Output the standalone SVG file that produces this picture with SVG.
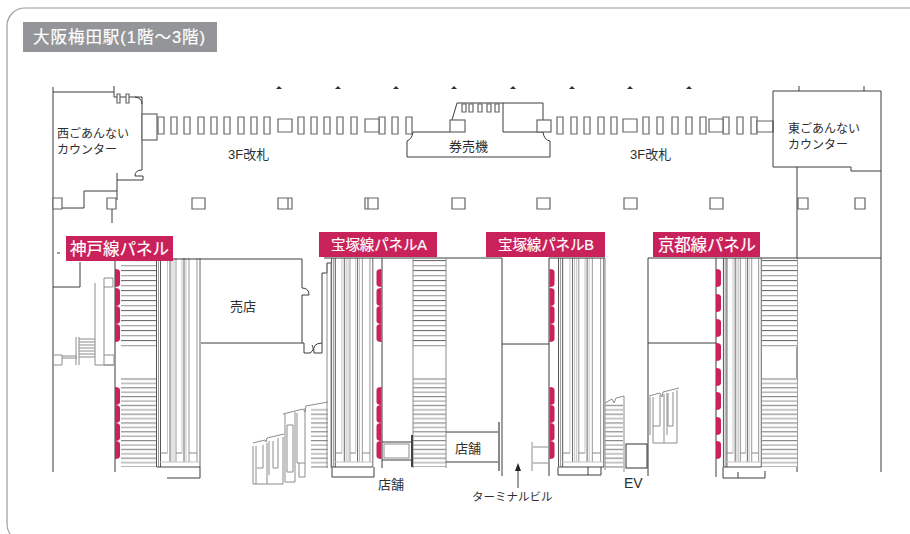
<svg xmlns="http://www.w3.org/2000/svg" width="910" height="534" viewBox="0 0 910 534">
<style>
.d{fill:none;stroke:#3c3c3c;stroke-width:1}
.b{fill:#fff;stroke:#666;stroke-width:1.2}
.g{fill:none;stroke:#8c8c8c;stroke-width:1}
.t{font-family:"Liberation Sans","Noto Sans CJK JP",sans-serif;fill:#2e2e2e;font-size:13px}
.s{font-size:12px}
.w{font-family:"Liberation Sans","Noto Sans CJK JP",sans-serif;fill:#fff;stroke:#fff;stroke-width:.2;font-size:16.5px}
.r{fill:#c9215a}
.ns{vector-effect:non-scaling-stroke;fill:none;stroke-width:1}
</style>
<defs>
<pattern id="st" width="10" height="10" patternUnits="userSpaceOnUse"><rect width="10" height="10" fill="#fff"/><rect y="0" width="10" height="1.1" fill="#6e6e6e"/><rect y="5" width="10" height="1.3" fill="#aaa"/></pattern>
<pattern id="st2" width="10" height="8.8" patternUnits="userSpaceOnUse"><rect width="10" height="8.8" fill="#fff"/><rect y="0" width="10" height="1.2" fill="#8a8a8a"/><rect y="4.4" width="10" height="1.3" fill="#aaa"/></pattern>
<g id="esc">
<path class="ns" stroke="#555" d="M.5 0V209M4.5 0V209"/>
<path class="ns" stroke="#999" d="M2.5 0V209M20 0V204M33 0V204M41 0V204"/>
<path class="ns" stroke="#666" d="M14 0V204M28 0V204M44 0V209"/>
<path class="ns" stroke="#c4c4c4" d="M11.5 0V195M16 0V204M18 0V204M26 0V195M30 0V204M4 204H43"/>
<path class="ns" stroke="#888" d="M4.5 195H11.5M20 195H26M33 195H41"/>
<path class="ns" stroke="#444" d="M1 209H44"/>
</g>
<path id="tick" d="M-3 3H3L0 0Z" fill="#333"/>
<path id="seg" d="M0 0Q5 0 5 3V15Q5 18 0 18Z"/>
<path id="segl" d="M0 0Q-5 0 -5 3V15Q-5 18 0 18Z"/>
</defs>
<rect x="7" y="8" width="930" height="534" rx="18" fill="#fff" stroke="#9c9c9c" stroke-width="1.2"/>

<g id="title"><rect x="23" y="22" width="194" height="30" fill="#939598"/><text class="w" x="33" y="43" style="font-size:16.5px" textLength="172">大阪梅田駅(1階〜3階)</text></g>

<g id="ticks">
<use href="#tick" x="279" y="86"/><use href="#tick" x="338" y="86"/><use href="#tick" x="396" y="86"/><use href="#tick" x="454" y="86"/><use href="#tick" x="513" y="86"/><use href="#tick" x="572" y="86"/><use href="#tick" x="630" y="86"/><use href="#tick" x="689" y="86"/>
</g>

<g id="west-counter">
<path class="d" d="M53 87V472M53 92H114M114 86V97H117M117 97H142V170Q135 170 135 176H143V180H117M117 173V200M84 191H117M84 191V208H53M112 209V223M135 97Q142 98 142 104M57 253H60"/>
<path class="b" d="M117 94h3v9h-3zM126 94h3v9h-3z"/>
<rect class="b" x="142" y="114" width="15" height="26"/>
<text class="t s" x="57" y="138">西ごあんない</text><text class="t s" x="57" y="154">カウンター</text>
</g>

<g id="gates">
<path class="b" d="M158 117h6v17h-6zM171 117h6v17h-6zM184 117h6v17h-6zM198 117h6v17h-6zM211 117h6v17h-6zM224 117h6v17h-6zM238 117h6v17h-6zM251 117h6v17h-6zM264 117h6v17h-6zM298 117h6v17h-6zM311 117h6v17h-6zM324 117h6v17h-6zM337 117h6v17h-6zM351 117h6v17h-6zM379 117h6v17h-6zM392 117h6v17h-6zM406 117h6v17h-6zM557 117h6v17h-6zM571 117h6v17h-6zM584 117h6v17h-6zM598 117h6v17h-6zM611 117h6v17h-6zM643 117h6v17h-6zM657 117h6v17h-6zM672 117h6v17h-6zM686 117h6v17h-6zM700 117h6v17h-6zM723 117h6v17h-6zM737 117h6v17h-6zM751 117h6v17h-6z"/>
<path class="b" d="M278 119h14v13h-14zM365 119h14v13h-14zM623 119h14v13h-14zM709 119h14v13h-14zM757 121h16v11h-16z"/>
<text class="t" x="228" y="159">3F改札</text><text class="t" x="630" y="159">3F改札</text>
</g>

<g id="ticket">
<path class="d" d="M413 132H450M413 132Q412 139 407 141V157H550V141Q544 140 543 132H503V103M457 103H543V120M457 103L452 120"/>
<rect class="b" x="450" y="120" width="15" height="12"/><rect class="b" x="537" y="120" width="14" height="12"/>
<path class="b" d="M462 104h4v8h-4zM469 104h4v8h-4zM478 104h4v8h-4zM487 104h4v8h-4zM495 104h4v8h-4z"/>
<text class="t" x="449" y="151">券売機</text>
</g>

<g id="pillars">
<path class="b" d="M53 198h9v11h-9zM107 198h9v11h-9zM192 198h13v11h-13zM278 198h14v11h-14zM365 198h13v11h-13zM452 198h13v11h-13zM537 198h13v11h-13zM624 198h13v11h-13zM710 198h13v11h-13zM798 198h10v11h-10zM855 198h10v11h-10z"/>
<path class="b" d="M288 198v11M368 198v11"/>
</g>

<g id="east-counter">
<path class="d" d="M773 91H881V472M773 91V167H851V171H881M797 167V472M799 86V91M864 86V91"/>
<text class="t s" x="788" y="133">東ごあんない</text><text class="t s" x="788" y="149">カウンター</text>
</g>

<g id="stairs">
<rect x="121" y="259" width="35" height="88" fill="url(#st)"/><rect x="121" y="378" width="35" height="89" fill="url(#st2)"/>
<rect x="413" y="258" width="33" height="89" fill="url(#st)"/><rect x="413" y="378" width="33" height="89" fill="url(#st2)"/>
<rect x="762" y="258" width="35" height="89" fill="url(#st)"/><rect x="762" y="378" width="35" height="89" fill="url(#st2)"/>
<rect x="311" y="408" width="17" height="60" fill="url(#st2)"/>
<rect x="605" y="403" width="18" height="65" fill="url(#st2)"/>
</g>

<g id="escalators">
<use href="#esc" transform="translate(156 258)"/>
<use href="#esc" transform="translate(331 258) scale(.95 1)"/>
<use href="#esc" transform="translate(558 258) scale(1.04 1)"/>
<use href="#esc" transform="translate(723 258) scale(.87 1)"/>
<path class="d" d="M332 467V477H374V467M558 467V475H601V467M588 467V475M723 467V478H765V471M738 472V478"/>
<path class="g" d="M605 258V470"/>
<path class="d" d="M167 478H200V467"/>
</g>

<g id="walls">
<path class="d" d="M115 251V472M115 259H302M80 262V287H53"/>
<path class="d" d="M302 259V288Q309 288 309 295H302V343H201M302 343H304V353H310Q315 350 312 345M314 353H322V273H327V263H331M322 343Q312 343 314 353"/>
<path class="d" d="M324 258H502M382 258V468M502 258V476M549 258V476M502 344H549M549 258H605M648 258H881M648 258V476M648 343H716M716 258V477"/>
<path class="g" d="M327 263V468M331 263V468M413 258V468M446 258V468"/>
<path class="d" d="M446 432H499M446 462H499M382 442H413M382 460H413"/>
<rect x="498" y="422" width="2" height="49" fill="#888"/>
<rect x="411" y="435" width="2" height="32" fill="#444"/>
<rect class="g" x="384" y="444" width="25" height="14"/>
<path class="g" d="M532 442V471M533 447H548M533 463H548"/>
<path class="d" d="M518 488V468"/><path d="M515 471H521L518 463Z" fill="#222"/>
<rect x="626" y="444" width="21" height="24" fill="#fff" stroke="#333"/>
<path class="g" d="M605 403L612 399L614 403L616 398L624 396V472"/>
</g>

<g id="small-stairs">
<path class="g" d="M95 283V365M104 278V365M114 365H95M104 278H113V287H104M104 355H114V365H104M53 355H62V365H53M62 356H77M62 358H77M76 337V365M79 337V365M79 339H95M79 342H95M79 345H95M79 348H95M79 351H95M79 354H95M79 357H95"/>
<path class="g" d="M253 443L265 440L266 442L267 438L284 434M253 446V484H283V437M256 446V484M263 445V468H257M267 443V484M269 441V475M273 441V468H278V438"/>
<path class="g" d="M283 414L303 409L305 412L306 406L328 402M285 414V482H295V412M287 425H293V472H287ZM297 413V463H305V408M299 463V477H305V463"/>
<path class="g" d="M649 396L660 393L662 397L663 392L679 388M650 397V435M653 397V443H677V390M660 395V426H653M664 394V443M667 393V435M668 393V426H673V392"/>
</g>

<g id="panels" class="r">
<use href="#seg" x="115" y="269"/><use href="#seg" x="115" y="288"/><use href="#seg" x="115" y="306"/><use href="#seg" x="115" y="324"/>
<use href="#seg" x="115" y="387"/><use href="#seg" x="115" y="405"/><use href="#seg" x="115" y="423"/><use href="#seg" x="115" y="441"/>
<use href="#segl" x="381.5" y="269"/><use href="#segl" x="381.5" y="288"/><use href="#segl" x="381.5" y="306"/><use href="#segl" x="381.5" y="324"/>
<use href="#segl" x="381.5" y="387"/><use href="#segl" x="381.5" y="405"/><use href="#segl" x="381.5" y="423"/><use href="#segl" x="381.5" y="441"/>
<use href="#seg" x="549.5" y="269"/><use href="#seg" x="549.5" y="288"/><use href="#seg" x="549.5" y="306"/><use href="#seg" x="549.5" y="324"/>
<use href="#seg" x="549.5" y="387"/><use href="#seg" x="549.5" y="405"/><use href="#seg" x="549.5" y="423"/><use href="#seg" x="549.5" y="441"/>
<use href="#seg" x="716" y="269"/><use href="#seg" x="716" y="294"/><use href="#seg" x="716" y="319"/><use href="#seg" x="716" y="343"/><use href="#seg" x="716" y="368"/><use href="#seg" x="716" y="392"/><use href="#seg" x="716" y="417"/><use href="#seg" x="716" y="441"/>
</g>

<g id="label-kobe"><rect class="r" x="66" y="236" width="107" height="25"/><text class="w" x="70" y="255" textLength="99">神戸線パネル</text></g>
<g id="label-a"><rect class="r" x="319" y="232" width="118" height="25"/><text class="w" x="331" y="250" style="font-size:14.5px" textLength="96">宝塚線パネルA</text></g>
<g id="label-b"><rect class="r" x="486" y="232" width="119" height="25"/><text class="w" x="498" y="250" style="font-size:14.5px" textLength="96">宝塚線パネルB</text></g>
<g id="label-kyoto"><rect class="r" x="653" y="232" width="107" height="25"/><text class="w" x="658" y="251" textLength="98">京都線パネル</text></g>

<g id="labels">
<text class="t" x="230" y="311">売店</text>
<text class="t" x="455" y="453">店舗</text>
<text class="t" x="378" y="489">店舗</text>
<text class="t" x="472" y="501" style="font-size:11.5px">ターミナルビル</text>
<text class="t" x="624" y="488" style="font-size:14px">EV</text>
</g>
</svg>
